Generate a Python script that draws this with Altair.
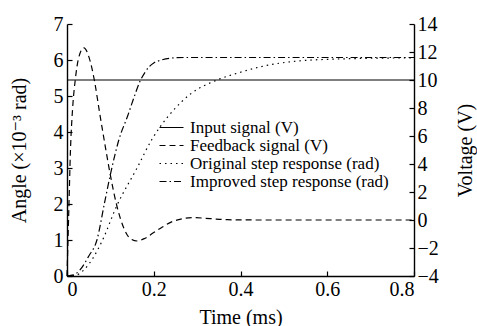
import altair as alt
import pandas as pd

# ---- data ----
series_names = ["Input signal (V)", "Feedback signal (V)",
                "Original step response (rad)", "Improved step response (rad)"]

# Angle series (x10^-3 rad), left axis
t_orig = [0, 0.02, 0.039, 0.06, 0.082, 0.114, 0.1615, 0.196, 0.215, 0.245, 0.284,
          0.345, 0.40, 0.445, 0.515, 0.63, 0.8]
a_orig = [0, 0.02, 0.17, 0.5, 1.0, 1.93, 3.0, 3.8, 4.15, 4.6, 5.05,
          5.44, 5.66, 5.81, 5.95, 6.03, 6.06]

t_impr = [0, 0.015, 0.03, 0.05, 0.069, 0.086, 0.1015, 0.12, 0.14, 0.155, 0.168,
          0.18, 0.19, 0.2, 0.215, 0.238, 0.27, 0.8]
a_impr = [0, 0.03, 0.17, 0.55, 1.0, 2.0, 2.9, 3.8, 4.45, 4.98, 5.4,
          5.66, 5.82, 5.92, 5.99, 6.05, 6.07, 6.07]

# Voltage series (V), right axis
t_input = [0, 0.8]
v_input = [10, 10]

t_fb = [0, 0.004, 0.008, 0.013, 0.019, 0.027, 0.039, 0.051, 0.063, 0.075, 0.088,
        0.1, 0.115, 0.13, 0.145, 0.1615, 0.18, 0.2, 0.22, 0.24, 0.26, 0.29,
        0.33, 0.37, 0.45, 0.8]
v_fb = [-4, 0.5, 5.0, 8.0, 10.0, 11.6, 12.3, 11.6, 10.0, 7.7, 5.3,
        3.2, 1.0, -0.5, -1.3, -1.5, -1.3, -0.9, -0.5, -0.15, 0.05, 0.17,
        0.1, 0.02, 0.0, 0.0]

x_ticks = [0, 0.2, 0.4, 0.6, 0.8]
left_ticks = [0, 1, 2, 3, 4, 5, 6, 7]
right_ticks = [-4, -2, 0, 2, 4, 6, 8, 10, 12, 14]

dashes = [[1, 0], [6, 4], [1.5, 4], [7, 3, 1.5, 3]]

# ---- tables ----
angle_df = pd.concat([
    pd.DataFrame({"t": t_orig, "y": a_orig, "series": series_names[2]}),
    pd.DataFrame({"t": t_impr, "y": a_impr, "series": series_names[3]}),
])
volt_df = pd.concat([
    pd.DataFrame({"t": t_input, "y": v_input, "series": series_names[0]}),
    pd.DataFrame({"t": t_fb, "y": v_fb, "series": series_names[1]}),
])

FONT = "'Times New Roman', 'Liberation Serif', 'DejaVu Serif', serif"

dash_enc = alt.StrokeDash(
    "series:N",
    scale=alt.Scale(domain=series_names, range=dashes),
    sort=series_names,
    legend=alt.Legend(
        title=None, orient="none", legendX=90, legendY=95,
        labelFont=FONT, labelFontSize=17, labelColor="black",
        symbolType="M-2.4,0H2.4", symbolSize=100, symbolStrokeColor="black",
        symbolFillColor="transparent", symbolOffset=6,
        symbolStrokeWidth=1.2, labelOffset=10, padding=0, rowPadding=0,
        labelLimit=400,
    ),
)

x_enc = alt.X(
    "t:Q",
    scale=alt.Scale(domain=[0, 0.8], nice=False),
    axis=alt.Axis(values=x_ticks, format="~g", title="Time (ms)", grid=False,
                  tickSize={"expr": "-5"}, labelPadding=8, titlePadding=8),
)

angle_layer = alt.Chart(angle_df).mark_line(
    color="black", strokeWidth=1.2, interpolate="monotone"
).encode(
    x=x_enc,
    y=alt.Y("y:Q", scale=alt.Scale(domain=[0, 7], nice=False),
            axis=alt.Axis(values=left_ticks, title="Angle (×10⁻³ rad)", grid=False,
                          tickSize={"expr": "-5"}, labelPadding=9, titlePadding=24)),
    strokeDash=dash_enc,
)

volt_layer = alt.Chart(volt_df).mark_line(
    color="black", strokeWidth=1.2, interpolate="monotone"
).encode(
    x=x_enc,
    y=alt.Y("y:Q", scale=alt.Scale(domain=[-4, 14], nice=False),
            axis=alt.Axis(values=right_ticks, title="Voltage (V)", orient="right",
                          grid=False, tickSize={"expr": "-5"}, labelPadding=8,
                          titlePadding=37, titleAngle=270)),
    strokeDash=dash_enc,
)

chart = alt.layer(angle_layer, volt_layer).resolve_scale(
    y="independent"
).properties(
    width=347, height=252,
    autosize=alt.AutoSizeParams(type="none"),
    padding={"left": 67, "top": 24, "right": 63, "bottom": 50},
).configure_view(
    stroke=None
).configure_axis(
    labelFont=FONT, titleFont=FONT, labelFontSize=20, titleFontSize=20,
    labelColor="black", titleColor="black", titleFontWeight="normal",
    domainColor="black", tickColor="black", domainWidth=1.4, tickWidth=1.2,
)

chart.save("out.html", embed_options={"renderer": "svg", "actions": False})
